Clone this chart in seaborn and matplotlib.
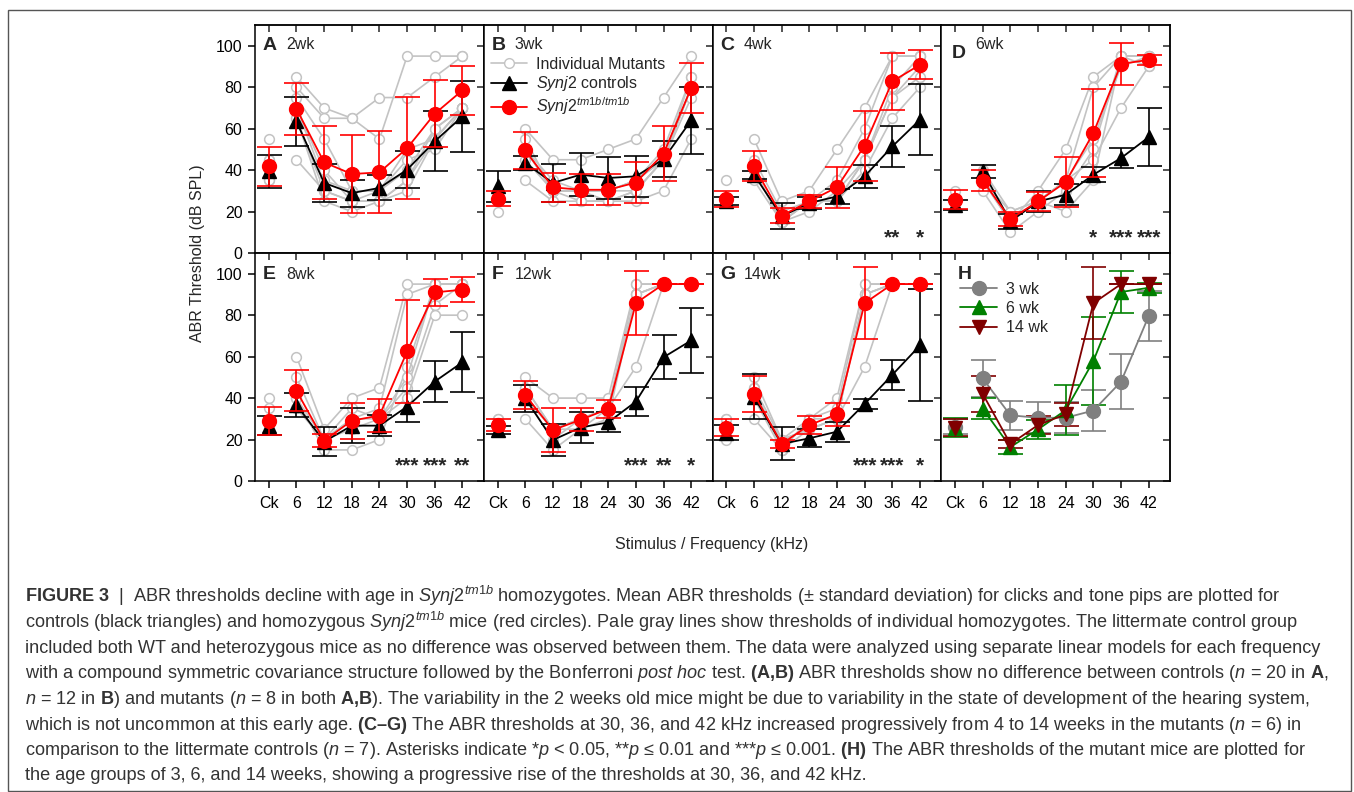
import matplotlib
matplotlib.use("Agg")
import matplotlib.pyplot as plt
from matplotlib.lines import Line2D
from matplotlib.patches import Rectangle
import numpy as np
import pandas as pd
import seaborn as sns

FREQS = ["Ck", "6", "12", "18", "24", "30", "36", "42"]
PANELS = ["A", "B", "C", "D", "E", "F", "G", "H"]
AGES = ["2wk", "3wk", "4wk", "6wk", "8wk", "12wk", "14wk", ""]

# group means / SD per panel A-G, one list per panel, values in dB SPL
CTRL_MEAN = [
    [39.4, 63.5, 33.8, 28.9, 31.4, 40.2, 53.9, 65.9],
    [32.2, 43.4, 33.8, 37.8, 36.2, 37.0, 45.3, 64.0],
    [25.0, 37.8, 17.7, 24.1, 27.3, 37.0, 51.4, 64.3],
    [23.3, 39.4, 15.3, 24.9, 28.1, 37.8, 45.8, 55.9],
    [26.7, 36.7, 19.0, 26.7, 26.7, 35.9, 48.0, 57.3],
    [24.6, 39.9, 19.8, 25.8, 28.3, 38.3, 59.7, 67.8],
    [23.3, 40.7, 17.9, 20.6, 23.8, 37.2, 51.2, 65.4],
]
CTRL_SD = [
    [8.0, 11.7, 9.0, 6.5, 6.0, 9.0, 14.5, 17.0],
    [7.5, 3.5, 9.0, 10.5, 10.0, 10.0, 8.6, 16.0],
    [2.0, 2.0, 6.3, 3.0, 3.6, 5.6, 10.0, 17.0],
    [2.5, 3.0, 3.5, 5.0, 5.0, 3.7, 5.0, 14.0],
    [4.6, 5.8, 7.0, 8.5, 5.0, 7.6, 10.0, 14.6],
    [2.0, 6.6, 7.6, 7.4, 4.8, 7.0, 10.5, 15.7],
    [3.6, 11.0, 8.0, 4.4, 4.8, 2.4, 7.4, 27.0],
]
MUT_MEAN = [
    [41.8, 69.5, 43.7, 38.1, 38.9, 50.6, 67.2, 78.5],
    [26.2, 49.5, 31.7, 30.5, 30.5, 34.0, 47.9, 79.6],
    [26.0, 41.8, 18.0, 24.9, 31.7, 51.8, 82.8, 90.8],
    [25.7, 34.9, 16.4, 24.9, 34.2, 57.9, 91.2, 93.2],
    [29.1, 43.5, 19.5, 29.1, 31.6, 62.5, 91.0, 92.3],
    [27.0, 41.5, 24.6, 29.5, 34.8, 85.8, 95.0, 95.0],
    [25.8, 42.0, 17.9, 27.0, 32.2, 85.8, 95.0, 95.0],
]
MUT_SD = [
    [9.5, 12.7, 17.7, 19.0, 19.8, 24.5, 16.3, 11.8],
    [3.5, 9.0, 7.0, 7.5, 7.5, 10.0, 13.4, 12.0],
    [3.8, 7.2, 3.6, 3.2, 9.8, 16.9, 13.8, 7.0],
    [4.5, 5.0, 3.5, 4.5, 12.0, 21.0, 10.0, 2.5],
    [6.8, 9.9, 3.2, 8.6, 8.0, 25.0, 6.4, 6.0],
    [3.0, 6.8, 10.4, 5.6, 4.4, 15.5, 0.0, 0.0],
    [4.2, 8.6, 2.0, 4.3, 5.6, 17.5, 0.0, 0.0],
]

# individual mutant thresholds (pale gray lines)
INDIVIDUALS = [
    [[40, 85, 70, 65, 75, 75, 85, 95], [55, 80, 65, 65, 55, 95, 95, 95],
     [35, 45, 30, 25, 25, 35, 60, 70], [40, 65, 30, 25, 25, 30, 55, 70],
     [40, 70, 35, 30, 30, 40, 60, 70], [35, 65, 25, 20, 25, 35, 55, 70],
     [45, 70, 40, 25, 30, 45, 50, 70], [45, 75, 55, 30, 30, 50, 55, 70]],
    [[25, 60, 45, 45, 50, 55, 75, 95], [20, 35, 25, 25, 25, 25, 30, 55],
     [25, 50, 30, 30, 30, 30, 45, 80], [30, 50, 30, 30, 30, 35, 45, 85],
     [25, 45, 30, 25, 25, 30, 45, 80], [30, 50, 30, 30, 30, 35, 45, 75],
     [25, 55, 30, 30, 25, 30, 45, 80], [30, 50, 35, 30, 30, 35, 50, 85]],
    [[35, 55, 25, 30, 50, 70, 95, 95], [25, 45, 20, 25, 35, 60, 95, 95],
     [25, 40, 15, 20, 30, 45, 75, 90], [25, 40, 15, 25, 25, 45, 80, 95],
     [25, 35, 15, 25, 25, 40, 65, 80], [25, 40, 15, 25, 25, 45, 75, 85]],
    [[25, 35, 15, 30, 50, 85, 95, 95], [30, 40, 20, 25, 35, 80, 95, 95],
     [25, 30, 10, 20, 30, 50, 95, 95], [25, 35, 15, 25, 35, 55, 90, 95],
     [25, 35, 20, 25, 35, 45, 70, 90], [25, 35, 15, 25, 20, 35, 95, 90]],
    [[40, 60, 25, 40, 45, 95, 95, 95], [35, 50, 20, 30, 35, 90, 95, 95],
     [25, 40, 15, 15, 20, 55, 95, 95], [25, 35, 20, 35, 30, 45, 85, 95],
     [25, 40, 20, 25, 30, 40, 80, 80], [25, 35, 20, 30, 30, 50, 95, 95]],
    [[30, 50, 40, 40, 40, 95, 95, 95], [25, 30, 15, 25, 35, 95, 95, 95],
     [25, 40, 20, 30, 35, 55, 95, 95], [30, 45, 25, 25, 30, 90, 95, 95],
     [25, 40, 25, 30, 35, 90, 95, 95], [25, 45, 25, 30, 35, 90, 95, 95]],
    [[30, 50, 20, 30, 40, 95, 95, 95], [20, 30, 15, 25, 30, 90, 95, 95],
     [25, 45, 15, 30, 30, 55, 95, 95], [25, 40, 20, 25, 30, 90, 95, 95],
     [25, 45, 20, 25, 30, 90, 95, 95], [30, 40, 15, 30, 35, 95, 95, 95]],
]

# significance marks per panel (frequency index -> text)
STARS = [
    {}, {},
    {6: "**", 7: "*"},
    {5: "*", 6: "***", 7: "***"},
    {5: "***", 6: "***", 7: "**"},
    {5: "***", 6: "**", 7: "*"},
    {5: "***", 6: "***", 7: "*"},
]

# panel H: mutant means of panels B (3 wk), D (6 wk), G (14 wk)
H_LABELS = ["3 wk", "6 wk", "14 wk"]
H_SOURCE = [1, 3, 6]
H_COLORS = ["#808080", "#008000", "#800000"]
H_MARKERS = ["o", "^", "v"]

CAPTION = [
    r"$\mathbf{FIGURE\ 3}$  |  ABR thresholds decline with age in $\mathit{Synj2}^{tm1b}$ homozygotes. Mean ABR thresholds ($\pm$ standard deviation) for clicks and tone pips are plotted for",
    r"controls (black triangles) and homozygous $\mathit{Synj2}^{tm1b}$ mice (red circles). Pale gray lines show thresholds of individual homozygotes. The littermate control group",
    r"included both WT and heterozygous mice as no difference was observed between them. The data were analyzed using separate linear models for each frequency",
    r"with a compound symmetric covariance structure followed by the Bonferroni $\mathit{post\ hoc}$ test. $\mathbf{(A{,}B)}$ ABR thresholds show no difference between controls ($\mathit{n}$ = 20 in $\mathbf{A}$,",
    r"$\mathit{n}$ = 12 in $\mathbf{B}$) and mutants ($\mathit{n}$ = 8 in both $\mathbf{A{,}B}$). The variability in the 2 weeks old mice might be due to variability in the state of development of the hearing system,",
    r"which is not uncommon at this early age. $\mathbf{(C–G)}$ The ABR thresholds at 30, 36, and 42 kHz increased progressively from 4 to 14 weeks in the mutants ($\mathit{n}$ = 6) in",
    r"comparison to the littermate controls ($\mathit{n}$ = 7). Asterisks indicate *$\mathit{p}$ < 0.05, **$\mathit{p}$ ≤ 0.01 and ***$\mathit{p}$ ≤ 0.001. $\mathbf{(H)}$ The ABR thresholds of the mutant mice are plotted for",
    r"the age groups of 3, 6, and 14 weeks, showing a progressive rise of the thresholds at 30, 36, and 42 kHz.",
]

GRAY = "#c3c3c3"
W, H = 1354, 792

sns.set_theme(style="ticks")
plt.rcParams["font.family"] = ["Liberation Sans", "DejaVu Sans"]
plt.rcParams["mathtext.fontset"] = "custom"
plt.rcParams["mathtext.rm"] = "Liberation Sans"
plt.rcParams["mathtext.it"] = "Liberation Sans:italic"
plt.rcParams["mathtext.bf"] = "Liberation Sans:bold"
plt.rcParams["axes.linewidth"] = 1.1

rows = []
for p, lines in enumerate(INDIVIDUALS):
    for m, vals in enumerate(lines):
        for k, v in enumerate(vals):
            rows.append((PANELS[p], m, k, v))
indiv = pd.DataFrame(rows, columns=["panel", "mouse", "x", "thr"])


def draw_group(ax, mean, sd, color, marker, ms, z):
    x = np.arange(len(FREQS))
    mean, sd = np.asarray(mean), np.asarray(sd)
    kw = dict(color=color, ecolor=color, marker=marker, ms=ms, mec=color,
              capsize=9, capthick=1.2, elinewidth=1.2, lw=1.3, zorder=z)
    ax.errorbar(x[1:], mean[1:], yerr=sd[1:], **kw)
    ax.errorbar(x[:1], mean[:1], yerr=sd[:1], ls="none", **kw)


fig, axes = plt.subplots(2, 4, figsize=(W / 100, H / 100), dpi=100,
                         sharex=True, sharey=True)
fig.subplots_adjust(left=255 / W, right=1170 / W, top=1 - 25 / H,
                    bottom=1 - 481 / H, wspace=0, hspace=0)

for i, ax in enumerate(axes.flat):
    if i < 7:
        sub = indiv[indiv["panel"] == PANELS[i]]
        sns.lineplot(data=sub[sub["x"] > 0], x="x", y="thr", units="mouse",
                     estimator=None, color=GRAY, lw=1.2, marker="o",
                     markersize=7, markerfacecolor="white",
                     markeredgecolor=GRAY, markeredgewidth=1.1,
                     legend=False, ax=ax, zorder=1)
        ck = sub[sub["x"] == 0]
        ax.plot(ck["x"], ck["thr"], "o", ms=7, mfc="white", mec=GRAY,
                mew=1.1, ls="none", zorder=1)
        draw_group(ax, CTRL_MEAN[i], CTRL_SD[i], "black", "^", 10, 3)
        draw_group(ax, MUT_MEAN[i], MUT_SD[i], "#ff0000", "o", 10, 4)
        for k, s in STARS[i].items():
            ax.text(k, 7.5, s, ha="center", va="center", fontsize=15,
                    fontweight="bold")
    else:
        for lab, src, c, mk in zip(H_LABELS, H_SOURCE, H_COLORS, H_MARKERS):
            draw_group(ax, MUT_MEAN[src], MUT_SD[src], c, mk, 10, 3)

    ax.set_xlim(-0.5, 7.77)
    ax.set_ylim(0, 110)
    ax.set_xticks(range(len(FREQS)))
    ax.set_xticklabels(FREQS)
    ax.set_yticks(range(0, 101, 20))
    ax.set_xlabel("")
    ax.set_ylabel("")
    for sp in ax.spines.values():
        sp.set_visible(True)
        sp.set_color("black")
        sp.set_linewidth(1.1)
    col, row = i % 4, i // 4
    ax.tick_params(axis="y", direction="out", length=5 if col == 0 else 0,
                   width=1.1, labelsize=11.5, pad=4, colors="black")
    ax.tick_params(axis="x", direction="out", length=5 if row == 1 else 0,
                   width=1.1, labelsize=11.5, pad=6, colors="black")
    top = ax.secondary_xaxis("top")
    top.set_xticks(range(len(FREQS)))
    top.tick_params(direction="in", length=5, width=1.1, labeltop=False)
    right = ax.secondary_yaxis("right")
    right.set_yticks(range(0, 101, 20))
    right.tick_params(direction="in", length=5, width=1.1, labelright=False)

    # panel letter and age
    lx = {3: 0.048, 7: 0.07}.get(i, 0.035)
    ly = {3: 0.877}.get(i, 0.912 if row == 0 else 0.904)
    ax.text(lx, ly, PANELS[i], transform=ax.transAxes, fontsize=14,
            fontweight="bold", ha="left", va="center")
    if AGES[i]:
        ax.text(lx + 0.1, 0.915 if row == 0 else 0.905, AGES[i],
                transform=ax.transAxes, fontsize=11.5, ha="left", va="center")

# legend panel B
handles = [
    Line2D([], [], color=GRAY, lw=1.2, marker="o", ms=7, mfc="white", mec=GRAY),
    Line2D([], [], color="black", lw=1.3, marker="^", ms=10),
    Line2D([], [], color="#ff0000", lw=1.3, marker="o", ms=10),
]
axes[0, 1].legend(handles, ["Individual Mutants", r"$\mathit{Synj2}$ controls",
                            r"$\mathit{Synj2}^{tm1b/tm1b}$"],
                  loc="upper left", bbox_to_anchor=(0.03, 0.86), frameon=False,
                  fontsize=11.5, handlelength=2.3, handletextpad=0.55,
                  labelspacing=0.15, borderaxespad=0, borderpad=0)

# legend panel H
h_handles = [Line2D([], [], color=c, lw=1.3, marker=m, ms=10)
             for c, m in zip(H_COLORS, H_MARKERS)]
axes[1, 3].legend(h_handles, H_LABELS, loc="upper left",
                  bbox_to_anchor=(0.083, 0.875), frameon=False, fontsize=11.5,
                  handlelength=2.3, handletextpad=0.55, labelspacing=0.28,
                  borderaxespad=0, borderpad=0)

fig.text(198 / W, 1 - 253 / H, "ABR Threshold (dB SPL)", rotation=90,
         ha="center", va="center", fontsize=11.5)
fig.text(712 / W, 1 - 545 / H, "Stimulus / Frequency (kHz)", ha="center",
         va="center", fontsize=11.5)

for j, line in enumerate(CAPTION):
    fig.text(25 / W, 1 - (602 + j * 25.5) / H, line, ha="left", va="baseline",
             fontsize=13.1, color="#333333")

fig.add_artist(Rectangle((8 / W, 1 / H), 1343 / W, 781 / H,
                         transform=fig.transFigure, fill=False, lw=1,
                         ec="#555555"))

fig.savefig("out.png", dpi=100)
